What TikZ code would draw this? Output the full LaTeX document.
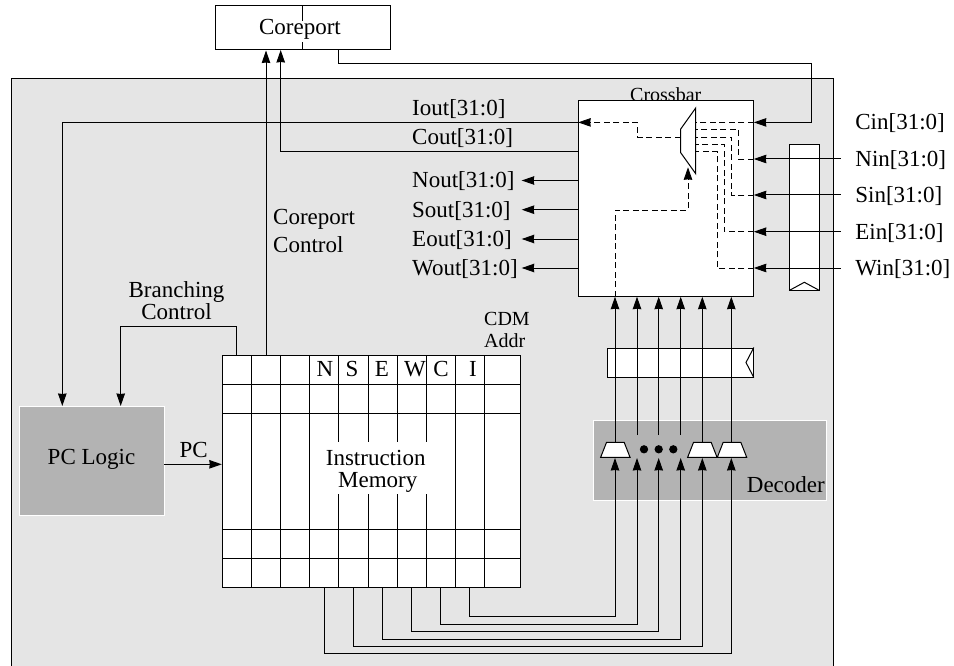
\documentclass[tikz,border=0pt]{standalone}
\usepackage{fontspec}
\setmainfont{Liberation Serif}
\usetikzlibrary{shapes.geometric, arrows.meta, positioning, calc}
\definecolor{corebg}{HTML}{E5E5E5}
\definecolor{blockbg}{HTML}{B3B3B3}
\tikzset{
    boxed/.style={
        rectangle, draw=black, fill=white, line width=1pt, inner sep=0pt
    },
    grayblock/.style={
        rectangle, draw=white, fill=blockbg, line width=0.8pt, inner sep=0pt,
        font=\fontsize{23}{22}\selectfont
    },
    mainfont/.style={
        font=\fontsize{23}{22}\selectfont, inner sep=0pt
    },
    smallfont/.style={
        font=\fontsize{20}{22}\selectfont, inner sep=0pt
    },
    siglabel/.style={
        mainfont, text height=15pt, text depth=0pt
    },
    basetext/.style={
        mainfont, anchor=base
    },
    arrow/.style={
        -{Stealth[length=12.5pt,width=8.5pt,inset=0.5pt]}, line width=1pt, draw=black
    },
    wire/.style={
        line width=1pt, draw=black
    },
    dashline/.style={
        line width=0.8pt, draw=black, dash pattern=on 6pt off 3.5pt
    },
    demux/.style={
        trapezium, trapezium stretches, draw=black, fill=white, line width=1pt,
        inner sep=0pt
    },
    dot/.style={
        circle, fill=black, inner sep=0pt, minimum size=8.3pt
    }
}
\begin{document}
\begin{tikzpicture}[x=1pt,y=-1pt]
    \useasboundingbox (0,0) rectangle (954,666);

    % tile background, open at the bottom
    \node[rectangle, fill=corebg, inner sep=0pt, minimum width=821.5pt, minimum height=587pt] (tile) at (422.25,372.5) {};
    \draw[wire] (tile.south west) |- (tile.north east) -- (tile.south east);

    \node[boxed, minimum width=175pt, minimum height=44.3pt] (coreport) at (302.5,27.85) {};
    \draw[wire] (coreport.north) -- (coreport.south);
    \node[mainfont, fill=white, inner xsep=2pt, text height=14pt, text depth=7pt] (coreportlabel) at (300,31.5) {Coreport};

    \node[smallfont, anchor=base west] (crossbarlabel) at (630,101.5) {Crossbar};
    \node[boxed, minimum width=174.6pt, minimum height=196pt] (crossbar) at (666,198.7) {};
    \node[demux, trapezium angle=46, rotate=90, minimum width=65.7pt, minimum height=15pt] (xmux) at (688.2,140.85) {\phantom{x}};

    \node[boxed, minimum width=29.3pt, minimum height=145.7pt] (vreg) at (804.35,217.15) {};
    \draw[wire] (vreg.south west) -- (804.35,282.3) -- (vreg.south east);
    \node[boxed, minimum width=145.6pt, minimum height=29pt] (hreg) at (680.5,362.5) {};
    \draw[wire] (hreg.north east) -- (746,362.5) -- (hreg.south east);

    \node[grayblock, minimum width=232.3pt, minimum height=79.3pt] (decoder) at (709.85,460.35) {};
    \node[mainfont, anchor=base west] (decoderlabel) at (746.7,492.7) {Decoder};
    \node[demux, trapezium angle=70, minimum width=29.4pt, minimum height=15pt] (muxa) at (615.35,449.8) {\phantom{x}};
    \node[demux, trapezium angle=70, minimum width=29.4pt, minimum height=15pt] (muxb) at (702.35,449.8) {\phantom{x}};
    \node[demux, trapezium angle=70, minimum width=29.4pt, minimum height=15pt] (muxc) at (732,449.8) {\phantom{x}};
    \foreach \i/\x in {1/644,2/658.7,3/673.3}
        \node[dot] (dot\i) at (\x,449.3) {};

    \node[grayblock, minimum width=145pt, minimum height=109pt, text height=15.5pt, text depth=8pt] (pclogic) at (91.5,460.5) {PC Logic};

    % instruction memory grid
    \node[boxed, minimum width=298pt, minimum height=232.7pt] (imem) at (371.3,471.35) {};
    \foreach \x in {251.7,280.7,309.7,338.7,368,397,426.3,455.3,484.3}
        \draw[wire] (\x,355) -- (\x,587.7);
    \foreach \y in {384,413.3,529.3,558.7}
        \draw[wire] (222.3,\y) -- (520.3,\y);
    \node[mainfont, fill=white, align=center, minimum width=117pt, minimum height=52pt] (imemlabel) at (368.2,467.7) {\rule{0pt}{23pt}\hspace*{15pt}Instruction\\\hspace*{19pt}Memory};
    \foreach \letter/\x in {N/325,S/352,E/382,W/415,C/441,I/473}
        \node[basetext] (cell\letter) at (\x,376.7) {\letter};

    % crossbar ports
    \coordinate (iport) at (crossbar.west |- 0,122.4);
    \coordinate (coutport) at (crossbar.west |- 0,151.5);
    \coordinate (cinport) at (crossbar.east |- 0,122.4);
    \coordinate (corout) at (338.7,50);
    \coordinate (cinturn) at (811.7,64);
    \draw[arrow] (corout) |- (cinturn) |- (cinport);

    \draw[arrow] (iport) -| (62.3,406) coordinate (pciout);
    \draw[arrow] (coutport) -| (280.7,50) coordinate (coreportin);
    \coordinate (ctlout) at (266,355);
    \draw[arrow] (ctlout) -- (ctlout |- coreport.south);
    \coordinate (brout) at (236.7,355);
    \coordinate (pcbr) at (120.7,406);
    \draw[arrow] (brout) -- ++(0,-29) -| (pcbr);
    \coordinate (pcout) at (pclogic.east |- 0,464.3);
    \coordinate (pcin) at (imem.west |- 0,464.3);
    \draw[arrow] (pcout) -- (pcin);

    \node[basetext, anchor=base west] (pclabel) at (179.3,457.7) {PC};
    \node[mainfont, align=center, anchor=base] (brlabel) at (176.5,319.3) {Branching\\Control};
    \node[mainfont, align=left, anchor=base west] (ctllabel) at (273,252) {Coreport\\[6pt]Control};
    \node[smallfont, align=left, anchor=base west] (cdmlabel) at (484,347.7) {CDM\\Addr};

    \node[siglabel, anchor=base west] (ioutlabel) at (412,116) {Iout[31:0]};
    \node[siglabel, anchor=base west] (coutlabel) at (412,144.3) {Cout[31:0]};

    \foreach \port/\y/\name in {n/180.5/Nout,s/209.7/Sout,e/239/Eout,w/268/Wout} {
        \coordinate (\port outport) at (crossbar.west |- 0,\y);
        \coordinate (\port outtip) at (521.7,\y);
        \draw[arrow] (\port outport) -- (\port outtip);
        \node[siglabel, anchor=west] (\port outlabel) at (412,\y) {\name[31:0]};
    }

    \coordinate (cend) at (840.7,122.4);
    \node[siglabel, right=14.5pt of cend] (cinlabel) {Cin[31:0]};
    \foreach \port/\y/\x/\my/\name in {n/159/738.7/129.7/Nin,s/195/731.7/137/Sin,e/231.7/724.3/144.3/Ein,w/268/717/151.7/Win} {
        \coordinate (\port inend) at (840.7,\y);
        \coordinate (\port inport) at (crossbar.east |- 0,\y);
        \draw[dashline] (\port inport) -| (\x,\my) -- (695.7,\my);
        \draw[arrow] (\port inend) -- (\port inport);
        \node[siglabel, right=14.5pt of \port inend] (\port inlabel) {\name[31:0]};
    }

    % dashed paths inside the crossbar
    \draw[dashline] (cinport) -- (695.7,122.4);
    \draw[arrow, line width=0.8pt, dash pattern=on 6pt off 3.5pt] (680.7,137) -- (637.3,137) -- (637.3,122.4) -- (iport);
    \draw[arrow, line width=0.8pt, dash pattern=on 6pt off 3.5pt] (615,296.7) -- (615,210) -- (688,210) -- (688,167.3);

    % buses from the memory through the decoder up to the crossbar
    \foreach \letter/\cellx/\busy/\busx/\topy in {N/324.7/653.3/731.3/442.3,S/353.3/646.3/702.3/442.3,E/382.3/639/680.7/435,W/411.3/631.5/658.7/435,C/440.7/624.2/637/435,I/469.7/616.7/615/442.3} {
        \coordinate (mem\letter) at (\cellx,587.7);
        \coordinate (dec\letter) at (\busx,458);
        \coordinate (up\letter) at (\busx,\topy);
        \coordinate (bar\letter) at (\busx,296.7);
        \draw[arrow] (mem\letter) |- (\busx,\busy) -- (dec\letter);
        \draw[arrow] (up\letter) -- (bar\letter);
    }

\end{tikzpicture}
\end{document}
